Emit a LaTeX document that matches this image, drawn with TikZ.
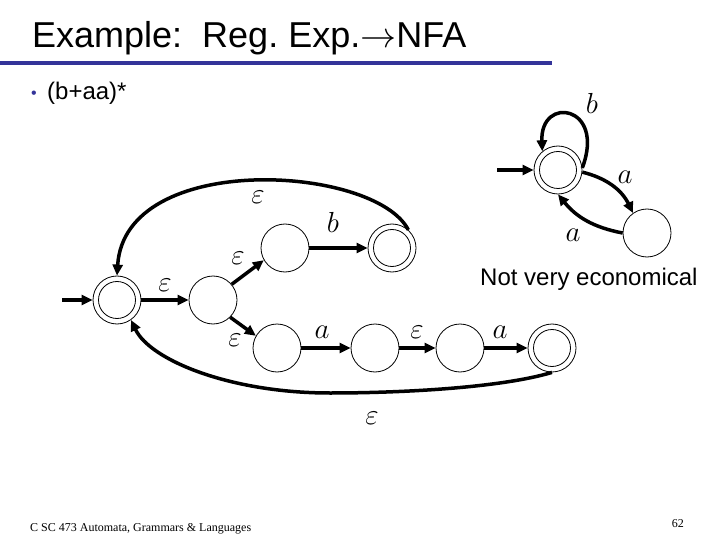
\RequirePackage{fix-cm}
\documentclass[tikz,border=0pt]{standalone}
\usepackage{fontspec}
\setmainfont{Liberation Sans}
\newfontfamily\timesf{Liberation Serif}
\usetikzlibrary{arrows.meta}
\definecolor{slideblue}{RGB}{51,51,153}
\frenchspacing
\begin{document}
\begin{tikzpicture}[x=1pt,y=-1pt,
  st/.style={draw,circle,minimum size=48pt,inner sep=0pt,line width=0.8pt},
  acc/.style={st,path picture={\draw[line width=0.8pt] (path picture bounding box.center) circle (18.5pt);}},
  edge/.style={line width=3.5pt,-{Triangle[length=11pt,width=10pt]}},
  lbl/.style={font=\fontsize{29}{32}\selectfont,inner sep=0pt}]
\useasboundingbox (0,0) rectangle (720,540);
% title
\node[anchor=base west,inner sep=0pt,font=\fontsize{36}{40}\selectfont] (title) at (32,48) {Example:\ \ Reg. Exp.$\rightarrow$NFA};
\fill[slideblue] (0,61) rectangle (552,65);
\node[anchor=base west,inner sep=0pt,text=slideblue,font=\fontsize{16}{18}\selectfont] (bul) at (31,99) {•};
\node[anchor=base west,inner sep=0pt,font=\fontsize{24}{28}\selectfont] (expr) at (47,100) {(b+aa)*};
\node[anchor=base west,inner sep=0pt,font=\fontsize{24}{28}\selectfont] (note) at (480,285) {Not very economical};
% states
\node[acc] (s0) at (117,300) {};
\node[st] (q1) at (213,300) {};
\node[st] (q2) at (285,248) {};
\node[acc] (q3) at (392,248) {};
\node[st] (q4) at (277,348) {};
\node[st] (q5) at (375,348) {};
\node[st] (q6) at (460,348) {};
\node[acc] (q7) at (552,348) {};
\node[acc] (s1) at (558,170) {};
\node[st] (r) at (647,233) {};
\coordinate (in0) at (62,300);
\coordinate (in1) at (497,170);
% edges
\draw[edge] (in0) -- (s0);
\draw[edge] (in1) -- (s1);
\draw[edge] (s0) -- (q1);
\draw[edge] (q1.40) -- (q2.210);
\draw[edge] (q1.-45) -- (q4.150);
\draw[edge] (q2) -- (q3);
\draw[edge] (q4) -- (q5);
\draw[edge] (q5) -- (q6);
\draw[edge] (q6) -- (q7);
\draw[edge] (q3.48) .. controls (375,165) and (125,150) .. (s0.90);
\draw[edge] (q7.-90) .. controls (500,388) and (400,393) .. (330,393) .. controls (230,393) and (150,360) .. (s0.-55);
\draw[edge] (s1.5) .. controls (606,105) and (540,95) .. (s1.130);
\draw[edge] (s1.-5) to[bend left=25] (r.125);
\draw[edge] (r.180) to[bend left=20] (s1.-90);
% labels
\node[lbl] (lb1) at (592,103) {$b$};
\node[lbl] (la1) at (625,177) {$a$};
\node[lbl] (la2) at (573,235) {$a$};
\node[lbl] (le1) at (258,197) {$\varepsilon$};
\node[lbl] (lb2) at (333,222) {$b$};
\node[lbl] (le2) at (238,258) {$\varepsilon$};
\node[lbl] (le3) at (165,285) {$\varepsilon$};
\node[lbl] (le4) at (235,340) {$\varepsilon$};
\node[lbl] (la3) at (322,332) {$a$};
\node[lbl] (le5) at (417,332) {$\varepsilon$};
\node[lbl] (la4) at (500,332) {$a$};
\node[lbl] (le6) at (372,418) {$\varepsilon$};
% footer
\node[anchor=base west,inner sep=0pt,font=\timesf\fontsize{12}{14}\selectfont] (foot) at (30,531) {C SC 473 Automata, Grammars \& Languages};
\node[anchor=base east,inner sep=0pt,font=\timesf\fontsize{12}{14}\selectfont] (pg) at (684,527) {62};
\end{tikzpicture}
\end{document}
